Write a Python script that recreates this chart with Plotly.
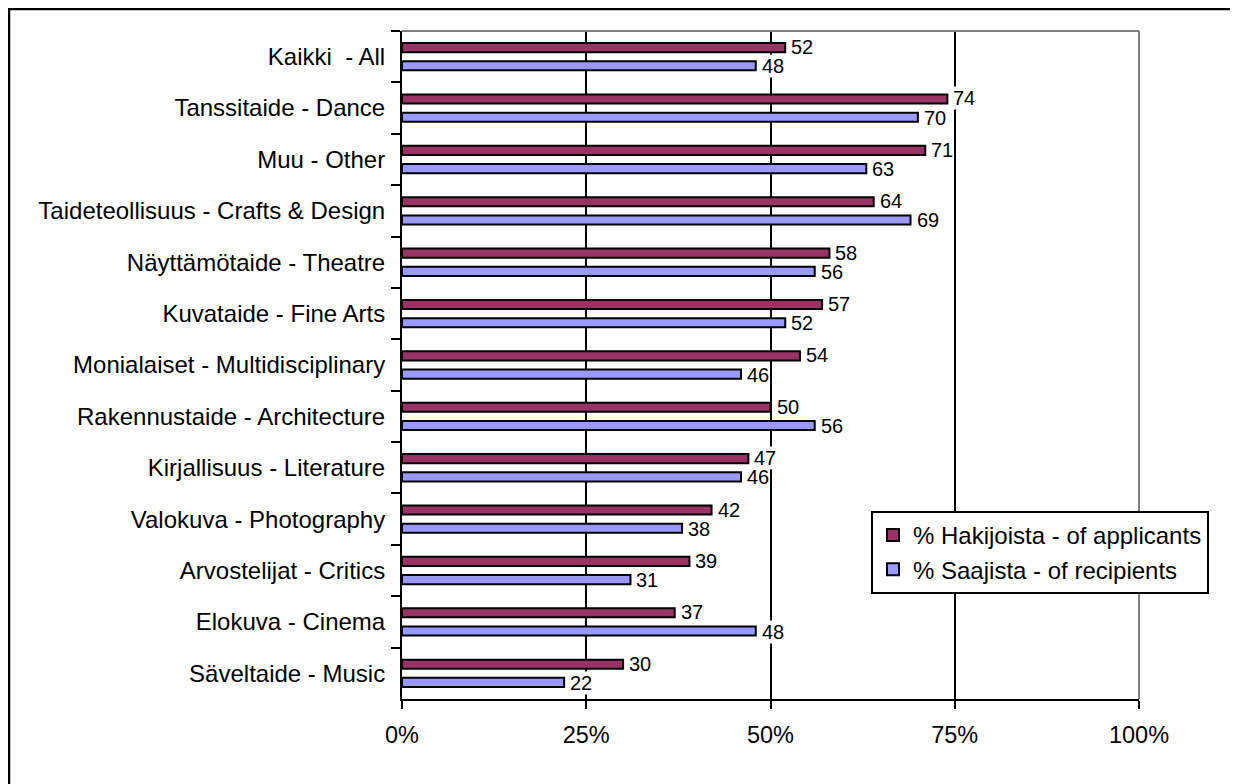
import plotly.graph_objects as go

# ---- data ----
categories = [
    "Kaikki\u00a0 - All",
    "Tanssitaide - Dance",
    "Muu - Other",
    "Taideteollisuus - Crafts & Design",
    "Näyttämötaide - Theatre",
    "Kuvataide - Fine Arts",
    "Monialaiset - Multidisciplinary",
    "Rakennustaide - Architecture",
    "Kirjallisuus - Literature",
    "Valokuva - Photography",
    "Arvostelijat - Critics",
    "Elokuva - Cinema",
    "Säveltaide - Music",
]
applicants = [52, 74, 71, 64, 58, 57, 54, 50, 47, 42, 39, 37, 30]
recipients = [48, 70, 63, 69, 56, 52, 46, 56, 46, 38, 31, 48, 22]
series_names = ["% Hakijoista - of applicants", "% Saajista - of recipients"]
x_tick_vals = [0, 25, 50, 75, 100]
x_tick_text = ["0%", "25%", "50%", "75%", "100%"]

# ---- style ----
FONT = "Liberation Sans, Arial, sans-serif"
RED = "#993366"
BLUE = "#9999FF"
OFF = 8  # page body margin of the html page
W, H = 1238, 784
ML = 402 - OFF
MT = 31 - OFF
MR = W - (1139 - OFF)
MB = H - (699 - OFF)
PW = W - ML - MR
PH = H - MT - MB

fig = go.Figure()
for name, vals, col in [(series_names[0], applicants, RED), (series_names[1], recipients, BLUE)]:
    fig.add_trace(go.Bar(
        y=categories, x=vals, name=name, orientation="h",
        marker=dict(color=col, line=dict(color="black", width=2)),
        hoverinfo="x+y",
    ))

annotations = []
for cat, a, r in zip(categories, applicants, recipients):
    for v, ys in [(a, 9.6), (r, -9.6)]:
        annotations.append(dict(
            x=v, y=cat, xref="x", yref="y", text=str(v), showarrow=False,
            xanchor="left", yanchor="middle", xshift=5, yshift=ys,
            bgcolor="white", borderpad=0,
            font=dict(family=FONT, size=20, color="black"),
        ))

def px2paper_x(px):  # px in page pixels
    return (px - OFF - ML) / PW

def px2paper_y(py):
    return (H - MB - (py - OFF)) / PH

shapes = [
    # grey plot-area border (top and right)
    dict(type="line", xref="paper", yref="paper", x0=0, x1=1, y0=1, y1=1,
         line=dict(color="#808080", width=2)),
    dict(type="line", xref="paper", yref="paper", x0=1, x1=1, y0=0, y1=1,
         line=dict(color="#808080", width=2)),
    # outer chart frame
    dict(type="rect", xref="paper", yref="paper",
         x0=px2paper_x(9), x1=px2paper_x(1234),
         y0=px2paper_y(820), y1=px2paper_y(9),
         line=dict(color="black", width=2.5), fillcolor="rgba(0,0,0,0)", layer="below"),
]

fig.update_layout(
    width=W, height=H, autosize=False,
    margin=dict(l=ML, r=MR, t=MT, b=MB, pad=0),
    paper_bgcolor="white", plot_bgcolor="white",
    font=dict(family=FONT, size=24, color="black"),
    barmode="group", bargap=0.29, bargroupgap=0.5,
    showlegend=True,
    legend=dict(
        x=px2paper_x(871), y=px2paper_y(511), xanchor="left", yanchor="top",
        bgcolor="white", bordercolor="black", borderwidth=2,
        font=dict(family=FONT, size=24, color="black"),
        traceorder="normal", itemwidth=30,
    ),
    xaxis=dict(
        range=[0, 100], tickvals=x_tick_vals, ticktext=x_tick_text,
        showgrid=True, gridcolor="black", gridwidth=2,
        zeroline=False, showline=True, linecolor="black", linewidth=2,
        ticks="outside", ticklen=8, tickwidth=2, tickcolor="black",
        tickfont=dict(family=FONT, size=23.5, color="black"),
        ticklabelstandoff=6, fixedrange=True,
    ),
    yaxis=dict(
        type="category", autorange="reversed",
        showgrid=False, zeroline=False,
        showline=True, linecolor="black", linewidth=2,
        ticks="outside", ticklen=9, tickwidth=2, tickcolor="black",
        tickson="boundaries",
        tickfont=dict(family=FONT, size=24, color="black"),
        ticklabelstandoff=10, fixedrange=True,
    ),
    annotations=annotations,
    shapes=shapes,
)

fig.write_html("out.html")
